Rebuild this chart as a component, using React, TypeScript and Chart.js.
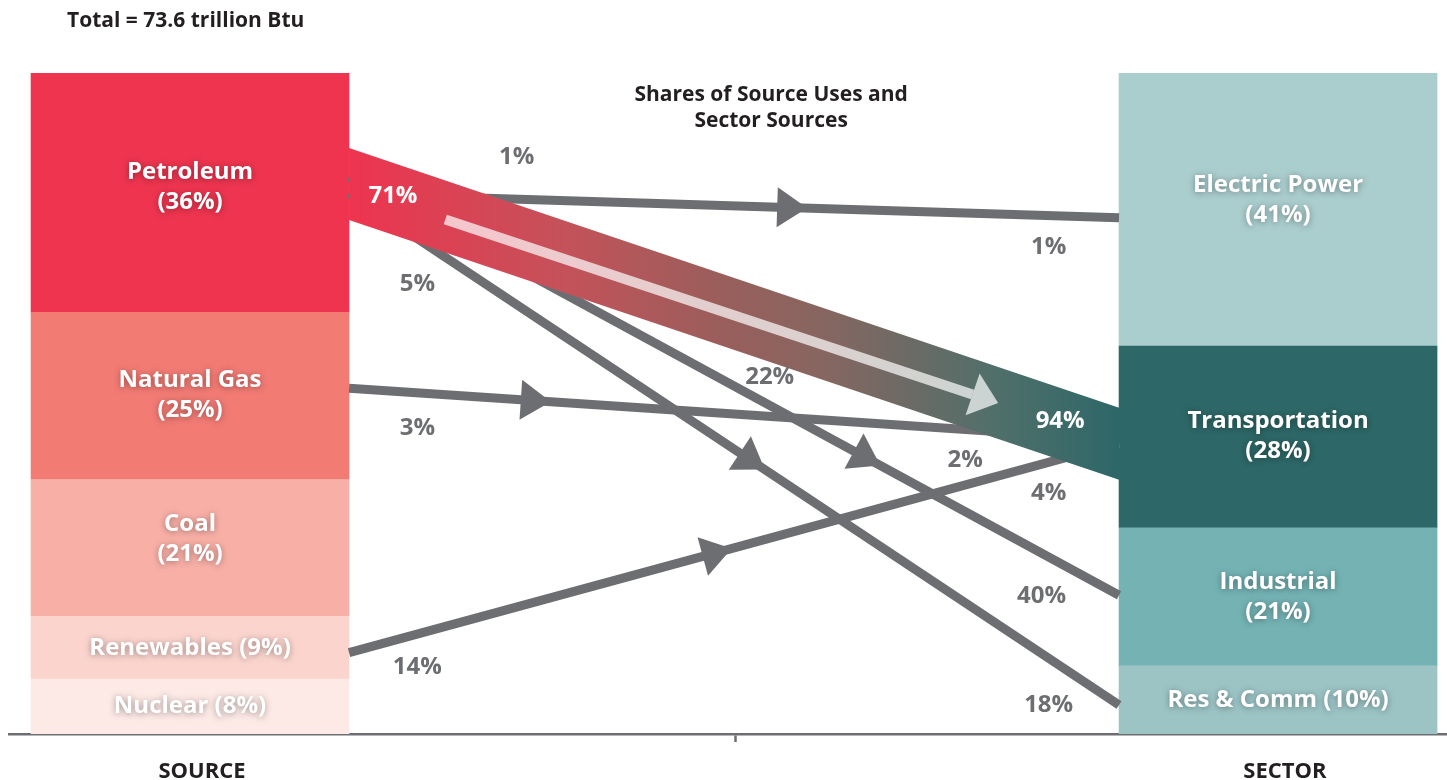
import { useEffect, useRef } from 'react';
import { Chart, registerables } from 'chart.js';

Chart.register(...registerables);

const FONT = '"Open Sans", "DejaVu Sans", sans-serif';
const INK = '#231F20';
const GRAY = '#6D6E71';

// ---------- data ----------
const totalLabel = 'Total = 73.6 trillion Btu';
const middleTitle = ['Shares of Source Uses and', 'Sector Sources'];
const axisTickValues = [13.42, 50.55, 88.73];
const axisTickLabels = ['SOURCE', '', 'SECTOR'];
const columnX = [12.59, 88.25];

const sourceNames = ['Petroleum', 'Natural Gas', 'Coal', 'Renewables', 'Nuclear'];
const sourcePct = [36, 25, 21, 9, 8];
const sourceShares = [36.2, 25.3, 20.7, 9.5, 8.3];
const sourceColors = ['#EE344F', '#F27B74', '#F8AFA6', '#FBD4CE', '#FDE9E5'];

const sectorNames = ['Electric Power', 'Transportation', 'Industrial', 'Res & Comm'];
const sectorPct = [41, 28, 21, 10];
const sectorShares = [41.3, 27.5, 20.9, 10.3];
const sectorColors = ['#AACDCE', '#2D6767', '#74B2B4', '#9CC4C5'];

const flowFrom = ['Petroleum', 'Petroleum', 'Petroleum', 'Petroleum', 'Natural Gas', 'Renewables'];
const flowTo = ['Electric Power', 'Transportation', 'Industrial', 'Res & Comm', 'Transportation', 'Transportation'];
const flowShareOfSource = [1, 71, 22, 5, 3, 14];
const flowShareOfSector = [1, 94, 40, 18, 2, 4];
const flowStartLevel = [81.7, 83.2, 84.3, 81.8, 52.3, 12.3];
const flowEndLevel = [78.1, 43.9, 21.0, 4.4, 44.5, 44.0];

// ---------- layout of annotations (scale units / pixels) ----------
const mainFlow = 1;
const mainFlowThickness = 10.9;
const arrowTipAt = [0.595, 0, 0.69, 0.54, 0.262, 0.497];
const mainArrowFrom = 0.125;
const mainArrowTo = 0.843;
const sourceLabelPos = [[35.3, 87.3], [26.7, 81.4], [52.9, 54.0], [28.4, 68.1], [28.4, 46.3], [28.4, 10.1]];
const sectorLabelPos = [[72.3, 73.7], [73.1, 47.4], [71.8, 20.9], [72.3, 4.4], [66.5, 41.5], [72.3, 36.5]];
const middleTitlePos = [53.0, 96.7];
const sourceLabelShift = [-5, -1, -9, 0, 0];
const sectorLabelShift = [-9, -1, 0, 0];

function stackRanges(values: number[]) {
  let top = values.reduce((a, b) => a + b, 0);
  return values.map((v) => {
    const r = [top - v, top];
    top -= v;
    return r;
  });
}

function segLabel(name: string, pct: number, heightPx: number): string[] {
  return heightPx < 80 ? [`${name} (${pct}%)`] : [name, `(${pct}%)`];
}

function drawHead(ctx: CanvasRenderingContext2D, tx: number, ty: number, ux: number, uy: number, len: number, half: number) {
  const bx = tx - ux * len;
  const by = ty - uy * len;
  ctx.beginPath();
  ctx.moveTo(tx, ty);
  ctx.lineTo(bx - uy * half, by + ux * half);
  ctx.lineTo(bx + uy * half, by - ux * half);
  ctx.closePath();
  ctx.fill();
}

const flowPlugin = {
  id: 'flows',
  afterDatasetsDraw(chart: any) {
    const { ctx, chartArea, scales } = chart;
    const xs = scales.x;
    const ys = scales.y;
    const srcMeta = chart.getDatasetMeta(0);
    const secMeta = chart.getDatasetMeta(1);
    const srcEl = srcMeta.data[0];
    const secEl = secMeta.data[0];
    const x0 = srcEl.x + srcEl.width / 2;
    const x1 = secEl.x - secEl.width / 2;

    ctx.save();
    // gray flows
    ctx.strokeStyle = GRAY;
    ctx.fillStyle = GRAY;
    ctx.lineWidth = 9;
    ctx.lineCap = 'butt';
    for (let i = 0; i < flowFrom.length; i++) {
      if (i === mainFlow) continue;
      const ya = ys.getPixelForValue(flowStartLevel[i]);
      const yb = ys.getPixelForValue(flowEndLevel[i]);
      ctx.beginPath();
      ctx.moveTo(x0, ya);
      ctx.lineTo(x1, yb);
      ctx.stroke();
      const dx = x1 - x0, dy = yb - ya;
      const L = Math.hypot(dx, dy);
      const ux = dx / L, uy = dy / L;
      const t = arrowTipAt[i];
      drawHead(ctx, x0 + dx * t, ya + dy * t, ux, uy, 30, 20);
    }

    // main band
    const ya = ys.getPixelForValue(flowStartLevel[mainFlow]);
    const yb = ys.getPixelForValue(flowEndLevel[mainFlow]);
    const half = (ys.getPixelForValue(0) - ys.getPixelForValue(mainFlowThickness)) / 2;
    const grad = ctx.createLinearGradient(x0, 0, x1, 0);
    grad.addColorStop(0, '#EE344F');
    grad.addColorStop(0.28, '#C4525A');
    grad.addColorStop(0.48, '#9A5E5B');
    grad.addColorStop(0.62, '#866661');
    grad.addColorStop(0.84, '#506F6A');
    grad.addColorStop(1, '#2D6768');
    ctx.fillStyle = grad;
    ctx.beginPath();
    ctx.moveTo(x0, ya - half);
    ctx.lineTo(x1, yb - half);
    ctx.lineTo(x1, yb + half);
    ctx.lineTo(x0, ya + half);
    ctx.closePath();
    ctx.fill();

    // light arrow in band
    {
      const dx = x1 - x0, dy = yb - ya;
      const L = Math.hypot(dx, dy);
      const ux = dx / L, uy = dy / L;
      const sx = x0 + dx * mainArrowFrom, sy = ya + dy * mainArrowFrom + 3;
      const tx = x0 + dx * mainArrowTo, ty = ya + dy * mainArrowTo;
      const headLen = 27;
      ctx.strokeStyle = 'rgba(255,255,255,0.7)';
      ctx.fillStyle = 'rgba(255,255,255,0.7)';
      ctx.lineWidth = 10;
      ctx.beginPath();
      ctx.moveTo(sx, sy);
      ctx.lineTo(tx - ux * headLen, ty - uy * headLen);
      ctx.stroke();
      drawHead(ctx, tx, ty, ux, uy, headLen, 22);
    }

    // percent labels
    ctx.font = `bold 24px ${FONT}`;
    ctx.textAlign = 'center';
    ctx.textBaseline = 'middle';
    for (let i = 0; i < flowFrom.length; i++) {
      ctx.fillStyle = i === mainFlow ? '#FFFFFF' : GRAY;
      const sp = sourceLabelPos[i];
      ctx.fillText(`${flowShareOfSource[i]}%`, xs.getPixelForValue(sp[0]), ys.getPixelForValue(sp[1]));
      const tp = sectorLabelPos[i];
      ctx.fillText(`${flowShareOfSector[i]}%`, xs.getPixelForValue(tp[0]), ys.getPixelForValue(tp[1]));
    }

    // bar labels
    ctx.fillStyle = '#FFFFFF';
    ctx.shadowColor = 'rgba(0,0,0,0.38)';
    ctx.shadowBlur = 6;
    ctx.shadowOffsetY = 1;
    const drawSeg = (meta: any, names: string[], pcts: number[], shifts: number[]) => {
      meta.data.forEach((el: any, j: number) => {
        const top = Math.min(el.y, el.base);
        const bot = Math.max(el.y, el.base);
        const lines = segLabel(names[j], pcts[j], bot - top);
        const cy = (top + bot) / 2 + shifts[j];
        const lh = 30;
        lines.forEach((ln, k) => {
          ctx.fillText(ln, el.x, cy + (k - (lines.length - 1) / 2) * lh);
        });
      });
    };
    drawSeg(srcMeta, sourceNames, sourcePct, sourceLabelShift);
    drawSeg(secMeta, sectorNames, sectorPct, sectorLabelShift);
    ctx.shadowColor = 'transparent';
    ctx.shadowBlur = 0;
    ctx.shadowOffsetY = 0;

    // titles
    ctx.fillStyle = INK;
    ctx.font = `bold 21px ${FONT}`;
    ctx.textAlign = 'left';
    ctx.fillText(totalLabel, chartArea.left + 58, 21);
    ctx.textAlign = 'center';
    const mx = xs.getPixelForValue(middleTitlePos[0]);
    const my = ys.getPixelForValue(middleTitlePos[1]);
    middleTitle.forEach((t, k) => ctx.fillText(t, mx, my + k * 26));
    ctx.restore();
  },
};

export default function App() {
  const ref = useRef<HTMLCanvasElement | null>(null);
  useEffect(() => {
    if (!ref.current) return;
    const srcRanges = stackRanges(sourceShares);
    const secRanges = stackRanges(sectorShares);
    const chart = new Chart(ref.current, {
      type: 'bar',
      data: {
        datasets: [
          {
            label: 'Source',
            data: srcRanges.map((r) => ({ x: columnX[0], y: r })) as any,
            backgroundColor: sourceColors,
            barThickness: 318,
            grouped: false,
            borderWidth: 0,
          } as any,
          {
            label: 'Sector',
            data: secRanges.map((r) => ({ x: columnX[1], y: r })) as any,
            backgroundColor: sectorColors,
            barThickness: 318,
            grouped: false,
            borderWidth: 0,
          } as any,
        ],
      },
      options: {
        animation: false,
        responsive: true,
        maintainAspectRatio: false,
        layout: { padding: { top: 73, left: 9, right: 0, bottom: 0 } },
        plugins: {
          legend: { display: false },
          tooltip: { enabled: false },
          title: { display: false },
        },
        scales: {
          x: {
            type: 'linear',
            min: 0,
            max: 100,
            offset: false,
            afterBuildTicks: (s: any) => {
              s.ticks = axisTickValues.map((v) => ({ value: v }));
            },
            ticks: {
              autoSkip: false,
              maxRotation: 0,
              padding: 19,
              color: INK,
              font: { family: FONT, size: 22, weight: 'bold', lineHeight: 1 },
              callback: (_v: any, i: number) => axisTickLabels[i],
            },
            grid: {
              display: true,
              drawOnChartArea: false,
              drawTicks: true,
              tickLength: 8,
              offset: false,
              tickWidth: 2.5,
              tickColor: (c: any) => (c.tick && axisTickLabels[c.index] === '' ? GRAY : 'rgba(0,0,0,0)'),
            },
            border: { display: true, color: GRAY, width: 2.5 },
          } as any,
          y: { display: false, min: 0, max: 100 },
        },
      },
      plugins: [flowPlugin],
    });
    return () => chart.destroy();
  }, []);
  return (
    <div style={{ position: 'fixed', left: 0, top: 0, width: 1447, height: 802, background: '#fff' }}>
      <canvas ref={ref} />
    </div>
  );
}
